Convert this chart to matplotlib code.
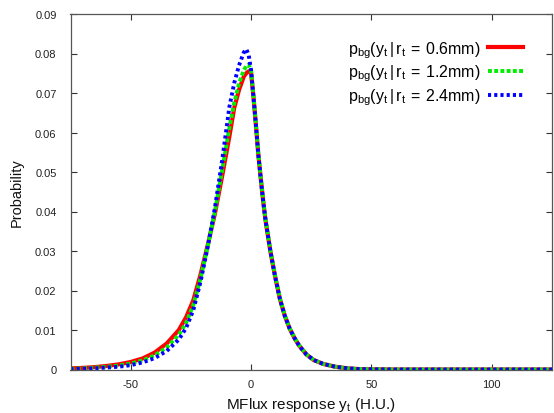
import matplotlib
matplotlib.use("Agg")
import matplotlib.pyplot as plt

plt.rcParams['font.family'] = ['Liberation Sans', 'DejaVu Sans']
plt.rcParams['mathtext.fontset'] = 'custom'
plt.rcParams['mathtext.rm'] = 'Liberation Sans'
plt.rcParams['mathtext.it'] = 'Liberation Sans'
plt.rcParams['axes.unicode_minus'] = False

x = [-75, -70, -65, -60, -55, -50, -45, -40, -35, -30, -27, -24, -21, -18, -15, -12, -9, -7, -5, -3, -2, -1,
     0, 1, 2, 3, 4, 5, 6, 8, 10, 12, 14, 16, 18, 20, 23, 26, 30, 35, 40, 45, 50, 60, 75, 100, 125]

p_06 = [0.0003, 0.0004, 0.0006, 0.0009, 0.0013, 0.0019, 0.0028, 0.0043, 0.0066, 0.0100, 0.0132, 0.0175,
        0.0240, 0.0315, 0.0395, 0.0490, 0.0590, 0.0662, 0.0708, 0.0742, 0.0750, 0.0755,
        0.0752, 0.0690, 0.0620, 0.0545, 0.0485, 0.0428, 0.0378, 0.0300, 0.0235, 0.0178, 0.0136, 0.0104,
        0.0080, 0.0060, 0.0038, 0.0024, 0.0014, 0.0007, 0.0003, 0.0001, 0.00005, 0.0, 0.0, 0.0, 0.0]

p_12 = [0.0002, 0.0003, 0.0005, 0.0007, 0.0010, 0.0015, 0.0023, 0.0036, 0.0056, 0.0088, 0.0118, 0.0163,
        0.0230, 0.0312, 0.0400, 0.0505, 0.0612, 0.0675, 0.0724, 0.0758, 0.0768, 0.0772,
        0.0757, 0.0692, 0.0622, 0.0547, 0.0487, 0.0430, 0.0380, 0.0302, 0.0237, 0.0180, 0.0137, 0.0105,
        0.0081, 0.0061, 0.0038, 0.0024, 0.0014, 0.0007, 0.0003, 0.0001, 0.00005, 0.0, 0.0, 0.0, 0.0]

p_24 = [0.0001, 0.0002, 0.0003, 0.0005, 0.0007, 0.0011, 0.0018, 0.0029, 0.0047, 0.0076, 0.0105, 0.0150,
        0.0222, 0.0310, 0.0410, 0.0530, 0.0665, 0.0725, 0.0770, 0.0803, 0.0811, 0.0797,
        0.0758, 0.0690, 0.0620, 0.0545, 0.0485, 0.0428, 0.0378, 0.0300, 0.0235, 0.0178, 0.0136, 0.0104,
        0.0080, 0.0060, 0.0038, 0.0024, 0.0014, 0.0007, 0.0003, 0.0001, 0.00005, 0.0, 0.0, 0.0, 0.0]

labels = [r'$\mathrm{p_{bg}(y_t\,|\,r_t\:=\:0.6mm)}$',
          r'$\mathrm{p_{bg}(y_t\,|\,r_t\:=\:1.2mm)}$',
          r'$\mathrm{p_{bg}(y_t\,|\,r_t\:=\:2.4mm)}$']

x_ticks = [-50, 0, 50, 100]
y_ticks = [0, 0.01, 0.02, 0.03, 0.04, 0.05, 0.06, 0.07, 0.08, 0.09]
y_ticklabels = ['0', '0.01', '0.02', '0.03', '0.04', '0.05', '0.06', '0.07', '0.08', '0.09']

fig = plt.figure(figsize=(5.54, 4.14), dpi=100)
ax = fig.add_axes([70.5 / 554, 1 - 370.5 / 414, (552 - 70.5) / 554, (370.5 - 15) / 414])

ax.plot(x, p_06, color='#ff0000', lw=3.0, ls='-', label=labels[0])
ax.plot(x, p_12, color='#00ee00', lw=2.8, ls=(0, (1, 0.6)), label=labels[1])
ax.plot(x, p_24, color='#0000ff', lw=2.8, ls=(0, (0.8, 0.8)), label=labels[2])

ax.set_xlim(-75, 125)
ax.set_ylim(0, 0.09)
ax.set_xticks(x_ticks)
ax.set_yticks(y_ticks)
ax.set_yticklabels(y_ticklabels)
ax.tick_params(direction='in', top=True, right=True, length=4, width=0.8,
               labelsize=8, colors='#333333', labelcolor='#222222')
ax.tick_params(axis='x', pad=7)
ax.tick_params(axis='y', pad=10)
for s in ax.spines.values():
    s.set_color('#555555')
    s.set_linewidth(0.9)

ax.set_xlabel(r'MFlux response $\mathrm{y_t}$ (H.U.)', fontsize=11, labelpad=4, color='#111111')
ax.set_ylabel('Probability', fontsize=10.5, labelpad=8, color='#111111')

leg = ax.legend(loc='upper right', bbox_to_anchor=(0.97, 0.97), frameon=False, fontsize=11.5,
                markerfirst=False, handlelength=2.2, labelspacing=0.2, handletextpad=0.5)

fig.savefig('out.png', dpi=100)
